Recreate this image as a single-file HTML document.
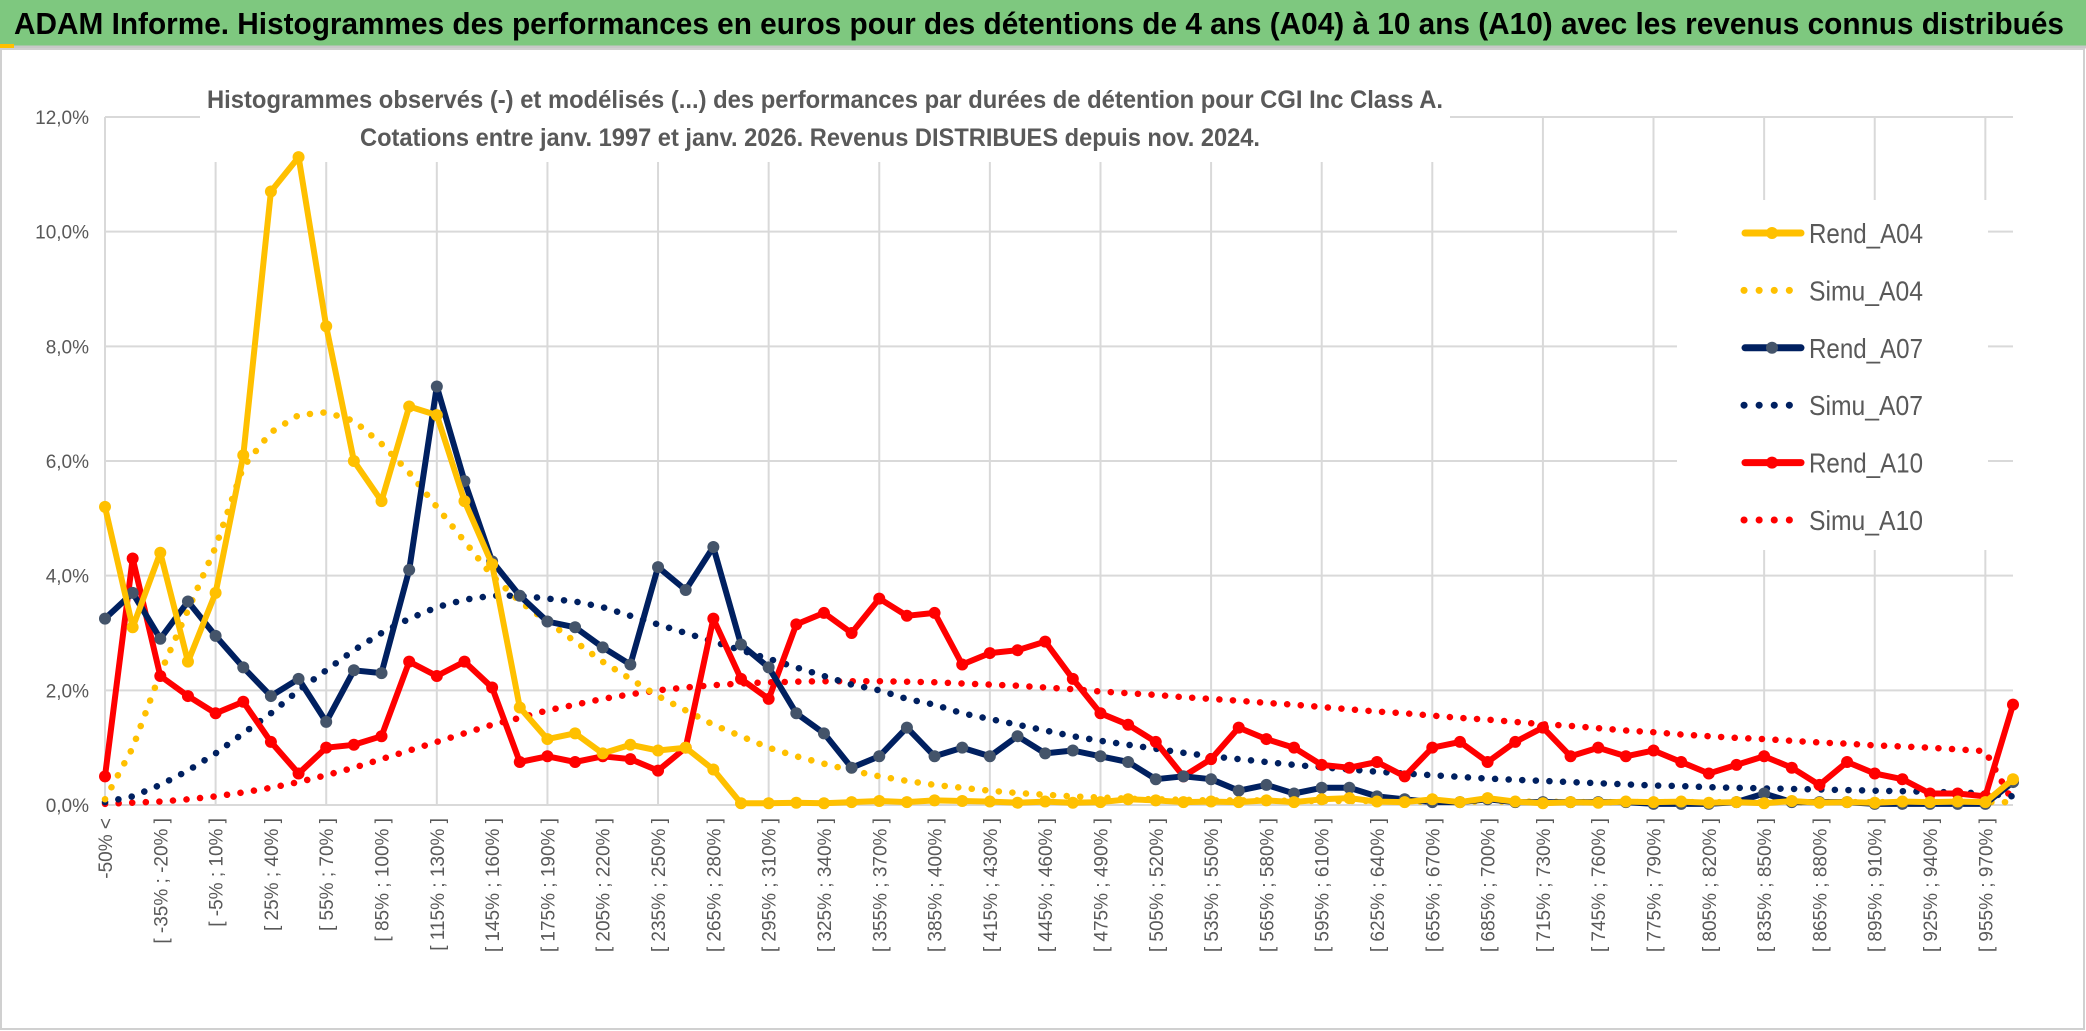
<!DOCTYPE html>
<html><head><meta charset="utf-8"><style>
html,body{margin:0;padding:0;background:#fff;}
svg{display:block;font-family:"Liberation Sans Narrow","Liberation Sans",sans-serif;}
</style></head><body>
<svg id="chart" width="2086" height="1031" viewBox="0 0 2086 1031" xmlns="http://www.w3.org/2000/svg">
<rect x="0" y="0" width="2086" height="1031" fill="#fff"/>
<rect x="0" y="0" width="2086" height="46" fill="#7ec87f"/>
<line x1="0" y1="47" x2="2086" y2="47" stroke="#c8c8c8" stroke-width="3"/>
<rect x="0" y="44" width="14" height="4" fill="#ffc000"/>
<text x="14" y="34" font-size="31" font-weight="bold" fill="#000" textLength="2050" lengthAdjust="spacingAndGlyphs">ADAM Informe. Histogrammes des performances en euros pour des détentions de 4 ans (A04) à 10 ans (A10) avec les revenus connus distribués</text>
<rect x="1" y="49" width="2083" height="980" fill="none" stroke="#d0d0d0" stroke-width="2"/>
<g id="grid"></g>
<rect x="200" y="72" width="1250" height="90" fill="#fff"/>
<rect x="1677" y="200" width="311" height="350" fill="#fff"/>
<text x="825" y="108" font-size="25" font-weight="bold" fill="#595959" text-anchor="middle" textLength="1236" lengthAdjust="spacingAndGlyphs">Histogrammes observés (-) et modélisés (...) des performances par durées de détention pour CGI Inc Class A.</text>
<text x="810" y="146" font-size="25" font-weight="bold" fill="#595959" text-anchor="middle" textLength="900" lengthAdjust="spacingAndGlyphs">Cotations entre janv. 1997 et janv. 2026. Revenus DISTRIBUES depuis nov. 2024.</text>
<g id="yaxis"></g>
<g id="xaxis"></g>
<g id="series"></g>
<g id="legend"></g>
</svg>
<script>
const yTicks = [0, 2, 4, 6, 8, 10, 12];
const yTickLabels = ["0,0%", "2,0%", "4,0%", "6,0%", "8,0%", "10,0%", "12,0%"];
const rendA04 = [5.2,3.1,4.4,2.5,3.7,6.1,10.7,11.3,8.35,6.0,5.3,6.95,6.8,5.3,4.2,1.7,1.15,1.25,0.9,1.05,0.95,1.0,0.62,0.03,0.03,0.04,0.03,0.05,0.07,0.05,0.08,0.07,0.06,0.04,0.06,0.04,0.05,0.1,0.08,0.05,0.06,0.05,0.08,0.05,0.1,0.12,0.06,0.05,0.1,0.05,0.12,0.06,0.03,0.05,0.04,0.06,0.05,0.06,0.04,0.05,0.03,0.07,0.04,0.05,0.04,0.06,0.05,0.06,0.05,0.45];
const simuA04 = [0.1,1.0,2.3,3.4,4.5,5.9,6.5,6.8,6.85,6.7,6.3,5.8,5.2,4.6,4.0,3.55,3.2,2.85,2.5,2.2,1.9,1.65,1.4,1.2,1.0,0.85,0.72,0.6,0.5,0.42,0.35,0.3,0.25,0.21,0.18,0.15,0.13,0.11,0.1,0.09,0.08,0.08,0.08,0.07,0.07,0.07,0.07,0.06,0.06,0.06,0.06,0.06,0.06,0.05,0.05,0.05,0.05,0.05,0.05,0.05,0.05,0.05,0.05,0.05,0.05,0.05,0.05,0.05,0.05,0.05];
const rendA07 = [3.25,3.7,2.9,3.55,2.95,2.4,1.9,2.2,1.45,2.35,2.3,4.1,7.3,5.65,4.25,3.65,3.2,3.1,2.75,2.45,4.15,3.75,4.5,2.8,2.4,1.6,1.25,0.65,0.85,1.35,0.85,1.0,0.85,1.2,0.9,0.95,0.85,0.75,0.45,0.5,0.45,0.25,0.35,0.2,0.3,0.3,0.15,0.1,0.05,0.05,0.1,0.05,0.05,0.05,0.05,0.05,0.02,0.02,0.02,0.05,0.2,0.05,0.05,0.05,0.02,0.02,0.02,0.02,0.02,0.4];
const simuA07 = [0.05,0.15,0.35,0.6,0.9,1.25,1.6,2.0,2.35,2.7,3.0,3.25,3.45,3.58,3.65,3.65,3.6,3.55,3.45,3.3,3.15,3.0,2.85,2.7,2.55,2.4,2.25,2.1,2.0,1.85,1.75,1.6,1.5,1.4,1.3,1.2,1.12,1.05,0.98,0.91,0.85,0.8,0.75,0.7,0.66,0.62,0.58,0.55,0.52,0.49,0.46,0.44,0.42,0.4,0.38,0.36,0.34,0.33,0.31,0.3,0.29,0.28,0.27,0.26,0.25,0.24,0.23,0.22,0.2,0.15];
const rendA10 = [0.5,4.3,2.25,1.9,1.6,1.8,1.1,0.55,1.0,1.05,1.2,2.5,2.25,2.5,2.05,0.75,0.85,0.75,0.85,0.8,0.6,1.0,3.25,2.2,1.85,3.15,3.35,3.0,3.6,3.3,3.35,2.45,2.65,2.7,2.85,2.2,1.6,1.4,1.1,0.5,0.8,1.35,1.15,1.0,0.7,0.65,0.75,0.5,1.0,1.1,0.75,1.1,1.35,0.85,1.0,0.85,0.95,0.75,0.55,0.7,0.85,0.65,0.35,0.75,0.55,0.45,0.2,0.2,0.15,1.75];
const simuA10 = [0.02,0.04,0.06,0.1,0.15,0.22,0.3,0.4,0.52,0.65,0.8,0.95,1.1,1.25,1.4,1.52,1.65,1.75,1.85,1.93,2.0,2.05,2.09,2.12,2.14,2.15,2.16,2.16,2.16,2.15,2.14,2.12,2.1,2.08,2.05,2.02,1.98,1.95,1.92,1.88,1.85,1.82,1.78,1.75,1.71,1.67,1.63,1.6,1.56,1.52,1.49,1.45,1.41,1.38,1.34,1.3,1.27,1.23,1.2,1.17,1.15,1.12,1.09,1.07,1.04,1.02,1.0,0.97,0.94,0.05];
const seriesNames = ["Rend_A04","Simu_A04","Rend_A07","Simu_A07","Rend_A10","Simu_A10"];

const NS = "http://www.w3.org/2000/svg";
const N = rendA04.length;
const categories = [];
for (let i = 0; i < N; i++) {
  if (i === 0) categories.push("-50% <");
  else { const a = -50 + 15 * (i - 1); categories.push("[ " + a + "% ; " + (a + 15) + "% ]"); }
}
const X0 = 105, X1 = 2013, Y0 = 805, Y1 = 117;
function xs(i) { return X0 + (X1 - X0) * i / (N - 1); }
function ys(v) { return Y0 - (Y0 - Y1) * v / 12; }
function mk(tag, attrs, parent) {
  const e = document.createElementNS(NS, tag);
  for (const k in attrs) e.setAttribute(k, attrs[k]);
  parent.appendChild(e);
  return e;
}
const grid = document.getElementById("grid");
yTicks.forEach(function (t) {
  const l = mk("line", {x1: X0, x2: X1, y1: ys(t), y2: ys(t), stroke: "#d9d9d9", "stroke-width": 2}, grid);
  
  
});
for (let i = 0; i < N; i += 4) {
  const l = mk("line", {x1: xs(i), x2: xs(i), y1: Y1, y2: Y0, stroke: "#d9d9d9", "stroke-width": 2}, grid);
  
  
}
const yaxis = document.getElementById("yaxis");
yTicks.forEach(function (t, k) {
  const tx = mk("text", {x: 89, y: ys(t) + 7, "font-size": 19, fill: "#595959", "text-anchor": "end", "font-family": "Liberation Sans Narrow, Liberation Sans, sans-serif"}, yaxis);
  tx.textContent = yTickLabels[k];
  
  
});
const xaxis = document.getElementById("xaxis");
for (let i = 0; i < N; i += 2) {
  const x = xs(i) + 7, y = 818;
  const tx = mk("text", {x: x, y: y, "font-size": 19, fill: "#595959", "text-anchor": "end", transform: "rotate(-90 " + x + " " + y + ")", "font-family": "Liberation Sans, sans-serif"}, xaxis);
  tx.textContent = categories[i];
  
  
}
const series = document.getElementById("series");
function pts(arr) { return arr.map(function (v, i) { return xs(i).toFixed(1) + "," + ys(v).toFixed(1); }).join(" "); }
function dotted(arr, color, name) {
  const p = mk("polyline", {points: pts(arr), fill: "none", stroke: color, "stroke-width": 6.5, "stroke-linecap": "round", "stroke-dasharray": "0.1 13.5"}, series);
  
  
}
function solid(arr, color, mcolor, name) {
  const p = mk("polyline", {points: pts(arr), fill: "none", stroke: color, "stroke-width": 6, "stroke-linejoin": "round"}, series);
  
  
  arr.forEach(function (v, i) {
    const c = mk("circle", {cx: xs(i), cy: ys(v), r: 6, fill: mcolor}, series);
    
    
  });
}
dotted(simuA10, "#ff0000", "simu-a10-line");
dotted(simuA07, "#002060", "simu-a07-line");
dotted(simuA04, "#ffc000", "simu-a04-line");
solid(rendA10, "#ff0000", "#ff0000", "rend-a10-line");
solid(rendA07, "#002060", "#44546a", "rend-a07-line");
solid(rendA04, "#ffc000", "#ffc000", "rend-a04-line");

const legend = document.getElementById("legend");
const legColors = ["#ffc000","#ffc000","#002060","#002060","#ff0000","#ff0000"];
const legMark = ["#ffc000","#ffc000","#44546a","#44546a","#ff0000","#ff0000"];
seriesNames.forEach(function (n, k) {
  const y = 233 + k * 57.4;
  if (k % 2 === 0) {
    const l = mk("line", {x1: 1745, x2: 1801, y1: y, y2: y, stroke: legColors[k], "stroke-width": 7, "stroke-linecap": "round"}, legend);
    
    
    const c = mk("circle", {cx: 1772, cy: y, r: 6, fill: legMark[k]}, legend);
    
    
  } else {
    const l = mk("line", {x1: 1744, x2: 1800, y1: y, y2: y, stroke: legColors[k], "stroke-width": 7, "stroke-linecap": "round", "stroke-dasharray": "0.1 15"}, legend);
    
    
  }
  const t = mk("text", {x: 1809, y: y + 10, "font-size": 28, fill: "#595959", textLength: 114, lengthAdjust: "spacingAndGlyphs"}, legend);
  t.textContent = n;
  
  
});
</script>
</body></html>
